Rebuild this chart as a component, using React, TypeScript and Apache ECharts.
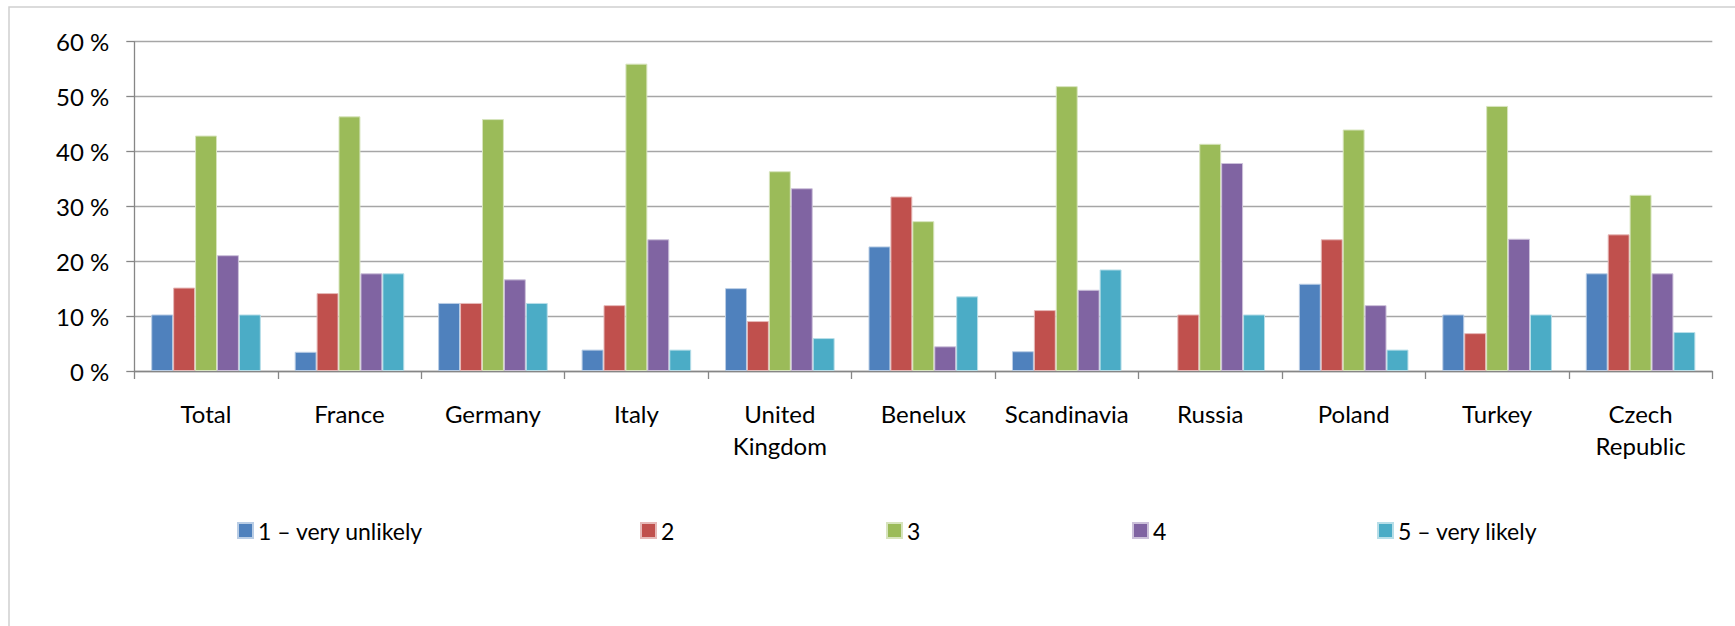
import React, { useEffect, useRef } from "react";
import * as echarts from "echarts";

// Regions surveyed
const categories = [
  "Total",
  "France",
  "Germany",
  "Italy",
  "United\nKingdom",
  "Benelux",
  "Scandinavia",
  "Russia",
  "Poland",
  "Turkey",
  "Czech\nRepublic",
];

// Share of answers per likelihood level (%)
const veryUnlikely = [10.3, 3.5, 12.4, 3.9, 15.1, 22.7, 3.6, 0, 15.9, 10.3, 17.8];
const level2 = [15.2, 14.2, 12.4, 12.0, 9.1, 31.8, 11.1, 10.3, 24.0, 6.9, 24.9];
const level3 = [42.9, 46.4, 45.9, 56.0, 36.4, 27.3, 51.9, 41.4, 44.0, 48.3, 32.1];
const level4 = [21.1, 17.8, 16.7, 24.0, 33.3, 4.5, 14.8, 37.9, 12.0, 24.1, 17.8];
const veryLikely = [10.3, 17.8, 12.4, 3.9, 6.0, 13.6, 18.5, 10.3, 3.9, 10.3, 7.1];

const seriesNames = ["1 – very unlikely", "2", "3", "4", "5 – very likely"];
const seriesData = [veryUnlikely, level2, level3, level4, veryLikely];
const colors = ["#4F81BD", "#C0504D", "#9BBB59", "#8064A2", "#4BACC6"];
const edgeColors = ["#B9CDE5", "#E6B9B8", "#D7E4BD", "#CCC1DA", "#B7DEE8"];
const legendLeft = [232, 635, 881, 1127, 1372];

const FONT = "Lato, 'Open Sans', sans-serif";

export default function App() {
  const ref = useRef<HTMLDivElement>(null);

  useEffect(() => {
    if (!ref.current) return;
    const chart = echarts.init(ref.current, undefined, { renderer: "svg" });

    const option: echarts.EChartsOption = {
      animation: false,
      backgroundColor: "#ffffff",
      textStyle: { fontFamily: FONT, color: "#000000" },
      graphic: [
        {
          type: "rect",
          shape: { x: 9, y: 7, width: 1760, height: 640 },
          style: { fill: "none", stroke: "#d0d0d0", lineWidth: 1.5 },
          silent: true,
        },
      ],
      legend: seriesNames.map((name, i) => ({
        data: [name],
        left: legendLeft[i],
        top: 514,
        orient: "horizontal" as const,
        itemWidth: 15,
        itemHeight: 15,
        itemGap: 0,
        icon: "rect",
        textStyle: { fontFamily: FONT, fontSize: 23, color: "#000000", padding: [0, 0, 0, 0] },
        selectedMode: false,
      })),
      grid: {
        left: 134.3,
        right: 22.7,
        top: 41.7,
        bottom: 255,
        containLabel: false,
      },
      xAxis: {
        type: "category",
        data: categories,
        axisLine: { show: true, lineStyle: { color: "#868686", width: 1.3 } },
        axisTick: { show: true, length: 8, lineStyle: { color: "#868686", width: 1.3 } },
        axisLabel: {
          fontFamily: FONT,
          fontSize: 24,
          color: "#000000",
          lineHeight: 32,
          margin: 26,
          interval: 0,
        },
      },
      yAxis: {
        type: "value",
        min: 0,
        max: 60,
        interval: 10,
        axisLine: { show: true, lineStyle: { color: "#868686", width: 1.3 } },
        axisTick: { show: true, length: 8, lineStyle: { color: "#868686", width: 1.3 } },
        splitLine: { show: true, lineStyle: { color: "#a6a6a6", width: 1.3 } },
        axisLabel: {
          fontFamily: FONT,
          fontSize: 24,
          color: "#000000",
          margin: 25,
          formatter: "{value} %",
        },
      },
      series: seriesNames.map((name, i) => ({
        name,
        type: "bar" as const,
        // empty answers get no outline so that nothing is drawn for them
        data: seriesData[i].map((v) =>
          v === 0 ? { value: v, itemStyle: { borderWidth: 0 } } : v
        ),
        barGap: "0%",
        barCategoryGap: "23.6%",
        itemStyle: {
          color: colors[i],
          borderColor: edgeColors[i],
          borderWidth: 1,
        },
      })),
    };

    chart.setOption(option);
    return () => chart.dispose();
  }, []);

  return (
    <div
      ref={ref}
      style={{ position: "absolute", left: 0, top: 0, width: 1735, height: 626 }}
    />
  );
}
